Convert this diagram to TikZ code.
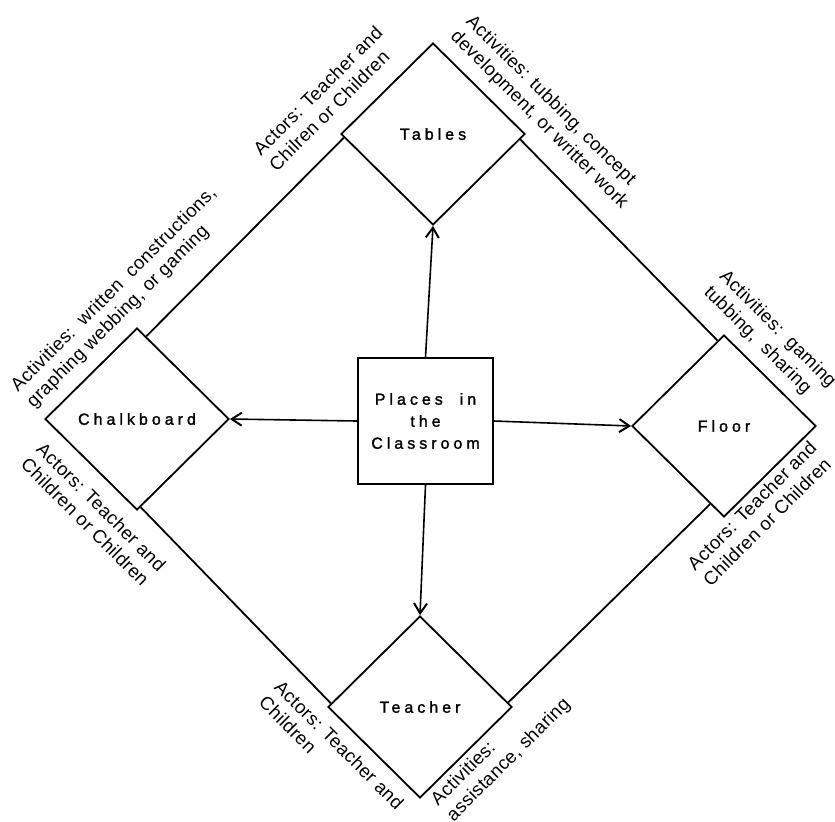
\documentclass[tikz,border=0pt]{standalone}
\usepackage{fontspec}
\setmainfont{Liberation Sans}
\usetikzlibrary{shapes.geometric,arrows.meta,calc}

% letter-spaced caption inside the boxes, plain text for the side notes
\newcommand\placefont{\fontsize{8}{11}\selectfont\addfontfeature{LetterSpace=25,FakeBold=1.5}}
\newcommand\notefont{\fontsize{9.3}{11}\selectfont\addfontfeature{LetterSpace=2}}

\begin{document}
\begin{tikzpicture}[x=0.5pt,y=-0.5pt,
  place/.style={draw, line width=0.9pt, shape=diamond, aspect=1, inner sep=0pt,
    minimum width=92pt, minimum height=91pt, font=\placefont},
  hub/.style={draw, line width=0.9pt, rectangle, minimum width=67.5pt,
    minimum height=63pt, align=center, inner sep=0pt, font=\placefont},
  % anchored at the start of the last line's baseline
  note/.style={inner sep=0pt, align=left, anchor=base west, font=\notefont},
  link/.style={line width=0.9pt},
  flow/.style={line width=0.8pt, -{Straight Barb[length=5pt,width=6.5pt,line width=1pt]}},
]
\useasboundingbox (0,0) rectangle (835,821);

% the central box and the four places
\node[hub] (hub) at (425.5,421) {Places\ \ in\\the\\Classroom};
\node[place] (tab) at (433,134) {Tables};
\node[place] (chk) at (137,419) {Chalkboard};
\node[place] (flr) at (724,426) {Floor};
\node[place] (tch) at (420,707) {Teacher};

% arrows from the box to each place
\draw[flow] (hub.north) -- (tab.south);
\draw[flow] (hub.west) -- (chk.east);
\draw[flow] (hub.east) -- (flr.west);
\draw[flow] (hub.south) -- (tch.north);

% outer ring joining neighbouring places
\draw[link] ($(tab.west)!0.04!(tab.south)$) -- ($(chk.north)!0.1!(chk.east)$);
\draw[link] ($(tab.east)!0.06!(tab.south)$) -- ($(flr.north)!0.07!(flr.west)$);
\draw[link] ($(chk.south)!0.04!(chk.east)$) -- ($(tch.west)!0.04!(tch.north)$);
\draw[link] ($(flr.south)!0.15!(flr.west)$) -- ($(tch.east)!0.05!(tch.north)$);

% side notes along the ring
\node[note, rotate=45]  (n1) at (276.5,172.5) {Actors: Teacher and\\Chilren or Children};
\node[note, rotate=-45] (n2) at (449.5,37.5)  {Activities: tubbing, concept\\development,\ or\ writter\ work};
\node[note, rotate=45]  (n3) at (33.5,408.5)  {Activities:\ \ written\ \ constructions,\\graphing webbing, or gaming};
\node[note, rotate=-45] (n4) at (19.5,465.5)  {Actors: Teacher and\\Children or Children};
\node[note, rotate=-45] (n5) at (703,293)     {Activities:\ \ gaming\\tubbing,\ \ sharing};
\node[note, rotate=45]  (n6) at (710.5,587.5) {Actors: Teacher and\\Children or Children};
\node[note, rotate=-45] (n7) at (257.5,703.5) {Actors: Teacher and\\Children};
\node[note, rotate=45]  (n8) at (453.5,822.5) {Activities:\\assistance, sharing};
\end{tikzpicture}
\end{document}
